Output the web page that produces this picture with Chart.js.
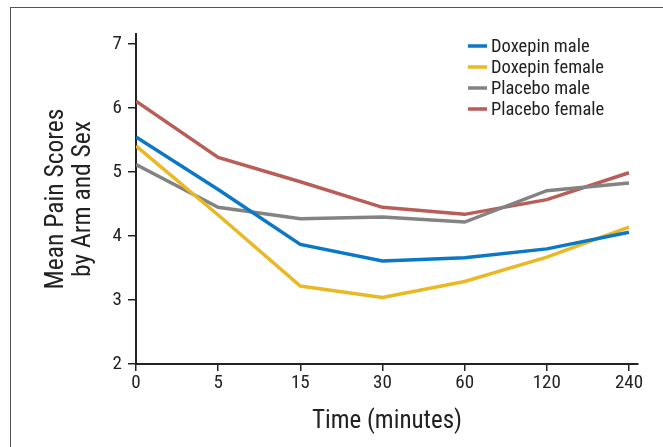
<!DOCTYPE html>
<html>
<head>
<meta charset="utf-8">
<script src="https://cdn.jsdelivr.net/npm/chart.js@4.4.1/dist/chart.umd.min.js"></script>
<style>
  html, body { margin: 0; padding: 0; background: #fff; overflow: hidden; }
  #wrap { position: relative; width: 663px; height: 447px; }
  #frame { position: absolute; left: 10px; top: 7px; width: 700px; height: 500px; border: 1.5px solid #555; box-sizing: border-box; }
  canvas { position: absolute; left: 0; top: 0; }
</style>
</head>
<body>
<div id="wrap">
  <div id="frame"></div>
  <canvas id="painChart" width="663" height="447"></canvas>
</div>
<script>
// Data
const timeLabels = ['0', '5', '15', '30', '60', '120', '240'];
const doxepinMale = [5.55, 4.73, 3.87, 3.61, 3.66, 3.80, 4.06];
const doxepinFemale = [5.41, 4.33, 3.22, 3.04, 3.29, 3.67, 4.14];
const placeboMale = [5.12, 4.45, 4.27, 4.30, 4.22, 4.71, 4.83];
const placeboFemale = [6.11, 5.23, 4.85, 4.45, 4.34, 4.57, 4.99];
const yTicks = [2, 3, 4, 5, 6, 7];

const FONT = "'Liberation Sans Narrow', 'Roboto Condensed', 'Liberation Sans', Arial, sans-serif";

function toPoints(arr) {
    return arr.map((v, i) => ({ x: i, y: v }));
}

// Small legend drawn inside the plot, top right
const insideLegend = {
    id: 'insideLegend',
    afterDraw(chart) {
        const ctx = chart.ctx;
        const x0 = 468, y0 = 46, rowH = 21;
        ctx.save();
        ctx.font = '18.5px ' + FONT;
        ctx.textBaseline = 'middle';
        chart.data.datasets.forEach((ds, i) => {
            const y = y0 + i * rowH;
            ctx.strokeStyle = ds.borderColor;
            ctx.lineWidth = 3.5;
            ctx.beginPath();
            ctx.moveTo(x0, y);
            ctx.lineTo(x0 + 19, y);
            ctx.stroke();
            ctx.fillStyle = '#222';
            ctx.fillText(ds.label, x0 + 23, y + 1);
        });
        ctx.restore();
    }
};

const ctx = document.getElementById('painChart').getContext('2d');
new Chart(ctx, {
    type: 'line',
    data: {
        datasets: [
            { label: 'Doxepin male', data: toPoints(doxepinMale), borderColor: '#0a78c4' },
            { label: 'Doxepin female', data: toPoints(doxepinFemale), borderColor: '#e9b925' },
            { label: 'Placebo male', data: toPoints(placeboMale), borderColor: '#838383' },
            { label: 'Placebo female', data: toPoints(placeboFemale), borderColor: '#b95d58' }
        ].map(d => Object.assign(d, { borderWidth: 3.5, pointRadius: 0, tension: 0, fill: false }))
    },
    options: {
        responsive: false,
        animation: false,
        layout: { padding: { top: 34, right: 25, left: 0, bottom: 0 } },
        plugins: {
            legend: { display: false },
            tooltip: { enabled: false }
        },
        scales: {
            x: {
                type: 'linear',
                min: 0,
                max: 6.11,
                afterFit(scale) { scale.height = 83; },
                afterBuildTicks(scale) {
                    scale.ticks = timeLabels.map((t, i) => ({ value: i }));
                },
                ticks: {
                    color: '#222',
                    font: { family: FONT, size: 19 },
                    padding: 1,
                    callback: (v) => timeLabels[v]
                },
                grid: { drawOnChartArea: false, drawTicks: true, tickLength: 7, color: '#222', lineWidth: 1.5 },
                border: { color: '#222', width: 2 },
                title: {
                    display: true,
                    text: 'Time (minutes)',
                    color: '#222',
                    font: { family: FONT, size: 25 },
                    padding: { top: 0, bottom: 10 }
                }
            },
            y: {
                min: 2,
                max: 7.16,
                afterFit(scale) { scale.width = 136; },
                afterBuildTicks(scale) {
                    scale.ticks = yTicks.map(v => ({ value: v }));
                },
                ticks: {
                    color: '#222',
                    font: { family: FONT, size: 19 },
                    padding: 6
                },
                grid: { drawOnChartArea: false, drawTicks: true, tickLength: 8, color: '#222', lineWidth: 1.5 },
                border: { color: '#222', width: 2 },
                title: {
                    display: true,
                    text: ['Mean Pain Scores', 'by Arm and Sex'],
                    color: '#222',
                    font: { family: FONT, size: 25.5, lineHeight: 1.06 },
                    padding: { top: 43, bottom: 0 }
                }
            }
        }
    },
    plugins: [insideLegend]
});
</script>
</body>
</html>
